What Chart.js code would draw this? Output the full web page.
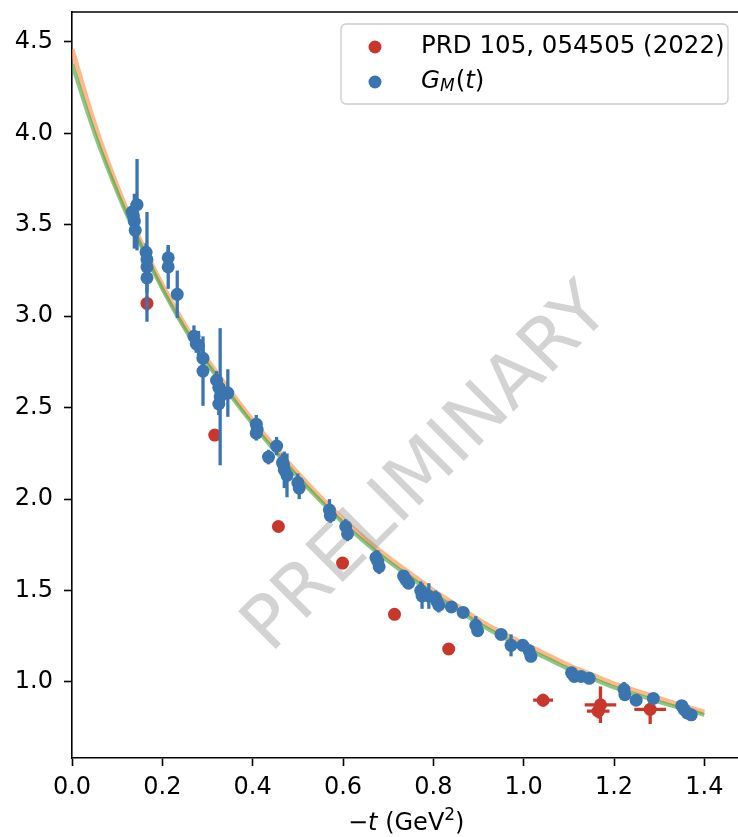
<!DOCTYPE html>
<html>
<head>
<meta charset="utf-8">
<script src="https://cdn.jsdelivr.net/npm/chart.js@4.4.0/dist/chart.umd.min.js"></script>
<style>
  html, body { margin: 0; padding: 0; background: #fff; overflow: hidden; }
  #wrap { width: 738px; height: 837px; overflow: hidden; }
</style>
</head>
<body>
<div id="wrap"><canvas id="myChart" width="747" height="837"></canvas></div>
<script>
// fit bands
const fitT = [0.0, 0.05, 0.1, 0.15, 0.2, 0.25, 0.3, 0.35, 0.4, 0.45, 0.5, 0.55, 0.6, 0.65, 0.7,
              0.75, 0.8, 0.85, 0.9, 0.95, 1.0, 1.05, 1.1, 1.15, 1.2, 1.25, 1.3, 1.35, 1.4];
const fitGreen = [4.38, 4.00, 3.68, 3.40, 3.15, 2.93, 2.74, 2.57, 2.41, 2.26, 2.12, 1.99, 1.87, 1.76, 1.66,
                  1.57, 1.48, 1.40, 1.32, 1.25, 1.19, 1.13, 1.07, 1.02, 0.97, 0.93, 0.89, 0.855, 0.82];
const fitOrange = [4.46, 4.05, 3.71, 3.42, 3.17, 2.95, 2.76, 2.59, 2.43, 2.28, 2.14, 2.01, 1.89, 1.78, 1.68,
                   1.59, 1.50, 1.42, 1.34, 1.27, 1.21, 1.15, 1.09, 1.04, 0.99, 0.95, 0.91, 0.87, 0.835];

// G_M(t) lattice points
const gmT = [0.133, 0.138, 0.144, 0.140, 0.136,
             0.164, 0.166, 0.166, 0.166,
             0.213, 0.213, 0.233,
             0.270, 0.275, 0.280, 0.290, 0.290,
             0.320, 0.325, 0.328, 0.335, 0.325, 0.345,
             0.408, 0.410, 0.408, 0.453, 0.435,
             0.466, 0.470, 0.476, 0.468, 0.500, 0.503,
             0.570, 0.572, 0.606, 0.610,
             0.673, 0.677, 0.680, 0.734, 0.739, 0.745,
             0.772, 0.775, 0.790, 0.805, 0.812, 0.808,
             0.840, 0.866, 0.894, 0.898, 0.950, 0.972,
             0.998, 1.012, 1.016,
             1.106, 1.112, 1.127, 1.145,
             1.222, 1.224, 1.249, 1.287,
             1.350, 1.355, 1.362, 1.371];
const gmVal = [3.57, 3.52, 3.61, 3.47, 3.55,
               3.35, 3.31, 3.27, 3.21,
               3.32, 3.27, 3.12,
               2.89, 2.85, 2.84, 2.77, 2.70,
               2.65, 2.61, 2.56, 2.58, 2.52, 2.58,
               2.41, 2.38, 2.36, 2.29, 2.23,
               2.20, 2.16, 2.13, 2.19, 2.09, 2.06,
               1.94, 1.91, 1.85, 1.81,
               1.68, 1.66, 1.63, 1.58, 1.56, 1.54,
               1.50, 1.47, 1.47, 1.46, 1.42, 1.44,
               1.41, 1.38, 1.31, 1.28, 1.26, 1.20,
               1.20, 1.17, 1.14,
               1.05, 1.03, 1.03, 1.02,
               0.96, 0.93, 0.90, 0.91,
               0.87, 0.85, 0.83, 0.82];
const gmErr = [0.05, 0.15, 0.25, 0.07, 0.06,
               0.05, 0.07, 0.30, 0.08,
               0.06, 0.12, 0.13,
               0.06, 0.05, 0.08, 0.06, 0.19,
               0.05, 0.06, 0.375, 0.05, 0.06, 0.13,
               0.05, 0.05, 0.04, 0.05, 0.04,
               0.05, 0.10, 0.12, 0.04, 0.05, 0.06,
               0.06, 0.04, 0.04, 0.04,
               0.04, 0.06, 0.04, 0.03, 0.04, 0.03,
               0.05, 0.07, 0.07, 0.04, 0.04, 0.04,
               0.03, 0.03, 0.05, 0.03, 0.03, 0.06,
               0.03, 0.03, 0.03,
               0.03, 0.02, 0.03, 0.03,
               0.04, 0.03, 0.02, 0.03,
               0.03, 0.03, 0.02, 0.02];

// PRD 105, 054505 (2022)
const prdT    = [0.166, 0.316, 0.457, 0.599, 0.714, 0.834, 1.043, 1.170, 1.165, 1.280];
const prdVal  = [3.07, 2.35, 1.85, 1.65, 1.37, 1.18, 0.90, 0.875, 0.84, 0.85];
const prdTErr = [0.003, 0.003, 0.004, 0.004, 0.010, 0.012, 0.022, 0.035, 0.025, 0.035];
const prdErr  = [0.04, 0.02, 0.02, 0.02, 0.01, 0.01, 0.035, 0.10, 0.04, 0.08];

const xTicks = [0.0, 0.2, 0.4, 0.6, 0.8, 1.0, 1.2, 1.4];
const yTicks = [1.0, 1.5, 2.0, 2.5, 3.0, 3.5, 4.0, 4.5];

const blue = '#3a75b0';
const red = '#c9372c';
const FONT = '"DejaVu Sans", sans-serif';

const toPts = (xs, ys) => xs.map((x, i) => ({ x: x, y: ys[i] }));

// error bars drawn just before each dataset's markers
const errorBars = {
    id: 'errorBars',
    beforeDatasetDraw(chart, args) {
        const ds = chart.data.datasets[args.index];
        if (!ds.yErr) return;
        const xs = chart.scales.x, ys = chart.scales.y;
        const ctx = chart.ctx;
        ctx.save();
        ctx.strokeStyle = ds.backgroundColor;
        ctx.lineWidth = 3.3;
        ds.data.forEach((p, i) => {
            const px = xs.getPixelForValue(p.x);
            const py = ys.getPixelForValue(p.y);
            ctx.beginPath();
            ctx.moveTo(px, ys.getPixelForValue(p.y - ds.yErr[i]));
            ctx.lineTo(px, ys.getPixelForValue(p.y + ds.yErr[i]));
            if (ds.xErr) {
                ctx.moveTo(xs.getPixelForValue(p.x - ds.xErr[i]), py);
                ctx.lineTo(xs.getPixelForValue(p.x + ds.xErr[i]), py);
            }
            ctx.stroke();
        });
        ctx.restore();
    }
};

// frame, watermark, legend and axis title
const decor = {
    id: 'decor',
    afterDatasetsDraw(chart) {
        const ctx = chart.ctx;
        const a = chart.chartArea;
        ctx.save();
        // top spine (right one is cut off in the original)
        ctx.strokeStyle = '#000';
        ctx.lineWidth = 1.6;
        ctx.beginPath();
        ctx.moveTo(a.left, a.top);
        ctx.lineTo(chart.width, a.top);
        ctx.stroke();

        // watermark
        ctx.save();
        ctx.translate(428, 470);
        ctx.rotate(-45 * Math.PI / 180);
        ctx.font = '73px ' + FONT;
        ctx.fillStyle = 'rgba(128,128,128,0.35)';
        ctx.textAlign = 'center';
        ctx.textBaseline = 'middle';
        ctx.fillText('PRELIMINARY', 0, 0);
        ctx.restore();

        // legend box
        const bx = 341, by = 24, bw = 387, bh = 80;
        ctx.fillStyle = 'rgba(255,255,255,0.8)';
        ctx.strokeStyle = '#cccccc';
        ctx.lineWidth = 1.3;
        ctx.beginPath();
        ctx.roundRect(bx, by, bw, bh, 5);
        ctx.fill();
        ctx.stroke();

        ctx.textBaseline = 'middle';
        ctx.textAlign = 'left';
        ctx.fillStyle = red;
        ctx.beginPath(); ctx.arc(375, 47, 6.5, 0, Math.PI * 2); ctx.fill();
        ctx.fillStyle = blue;
        ctx.beginPath(); ctx.arc(375, 82, 6.5, 0, Math.PI * 2); ctx.fill();

        ctx.fillStyle = '#000';
        ctx.font = '24.5px ' + FONT;
        ctx.fillText('PRD 105, 054505 (2022)', 421, 47);

        let x = 421;
        ctx.font = 'italic 24.5px ' + FONT;
        ctx.fillText('G', x, 82); x += ctx.measureText('G').width;
        ctx.font = 'italic 17px ' + FONT;
        ctx.fillText('M', x, 87); x += ctx.measureText('M').width + 1;
        ctx.font = '24.5px ' + FONT;
        ctx.fillText('(', x, 82); x += ctx.measureText('(').width;
        ctx.font = 'italic 24.5px ' + FONT;
        ctx.fillText('t', x, 82); x += ctx.measureText('t').width;
        ctx.font = '24.5px ' + FONT;
        ctx.fillText(')', x, 82);

        // x axis title: −t (GeV²)
        const parts = [
            ['\u2212', '24px ' + FONT, 0],
            ['t', 'italic 24px ' + FONT, 0],
            [' (GeV', '24px ' + FONT, 0],
            ['2', '17px ' + FONT, -8],
            [')', '24px ' + FONT, 0]
        ];
        let total = 0;
        parts.forEach(p => { ctx.font = p[1]; total += ctx.measureText(p[0]).width; });
        x = (a.left + a.right) / 2 - total / 2;
        parts.forEach(p => {
            ctx.font = p[1];
            ctx.fillText(p[0], x, 824 + p[2]);
            x += ctx.measureText(p[0]).width;
        });
        ctx.restore();
    }
};

const ctx = document.getElementById('myChart').getContext('2d');
const myChart = new Chart(ctx, {
    type: 'scatter',
    data: {
        datasets: [{
            label: 'G_M(t)',
            data: toPts(gmT, gmVal),
            yErr: gmErr,
            backgroundColor: blue,
            borderWidth: 0,
            pointRadius: 6.5,
            order: 0
        }, {
            label: 'PRD 105, 054505 (2022)',
            data: toPts(prdT, prdVal),
            yErr: prdErr,
            xErr: prdTErr,
            backgroundColor: red,
            borderWidth: 0,
            pointRadius: 6.5,
            order: 1
        }, {
            label: 'fit green',
            data: toPts(fitT, fitGreen),
            showLine: true,
            borderColor: 'rgba(60,160,50,0.6)',
            borderWidth: 4,
            pointRadius: 0,
            cubicInterpolationMode: 'monotone',
            order: 2
        }, {
            label: 'fit orange',
            data: toPts(fitT, fitOrange),
            showLine: true,
            borderColor: 'rgba(250,140,60,0.6)',
            borderWidth: 5,
            pointRadius: 0,
            cubicInterpolationMode: 'monotone',
            order: 3
        }]
    },
    options: {
        responsive: false,
        animation: false,
        layout: { padding: { top: 12, right: 0, left: 0, bottom: 0 } },
        plugins: {
            legend: { display: false },
            tooltip: { enabled: false }
        },
        scales: {
            x: {
                type: 'linear',
                min: 0,
                max: 1.48,
                afterFit: s => { s.height = 79; s.paddingLeft = 0; s.paddingRight = 0; },
                afterBuildTicks: s => { s.ticks = xTicks.map(v => ({ value: v })); },
                grid: {
                    drawOnChartArea: false,
                    tickLength: 8,
                    tickColor: '#000',
                    tickWidth: 1.6
                },
                border: { color: '#000', width: 1.6 },
                ticks: {
                    padding: 7,
                    color: '#000',
                    font: { family: 'DejaVu Sans', size: 24 },
                    callback: v => v.toFixed(1)
                }
            },
            y: {
                type: 'linear',
                min: 0.584,
                max: 4.664,
                afterFit: s => { s.width = 72; s.paddingTop = 0; s.paddingBottom = 0; },
                afterBuildTicks: s => { s.ticks = yTicks.map(v => ({ value: v })); },
                grid: {
                    drawOnChartArea: false,
                    tickLength: 8,
                    tickColor: '#000',
                    tickWidth: 1.6
                },
                border: { color: '#000', width: 1.6 },
                ticks: {
                    padding: 11,
                    color: '#000',
                    font: { family: 'DejaVu Sans', size: 24 },
                    callback: v => v.toFixed(1)
                }
            }
        }
    },
    plugins: [errorBars, decor]
});
</script>
</body>
</html>
